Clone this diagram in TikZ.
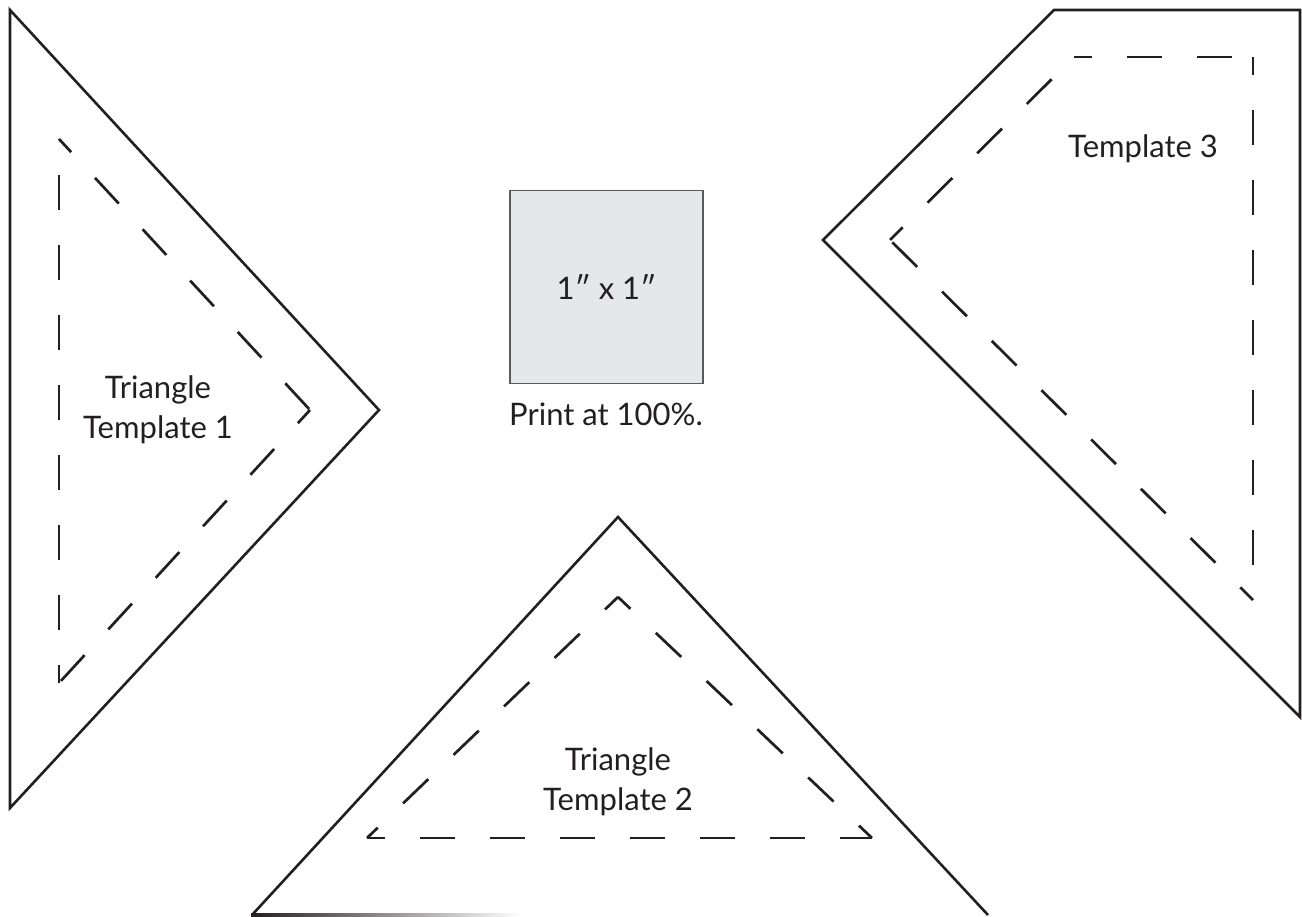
\documentclass[tikz,border=0pt]{standalone}
\usepackage{fontspec}
\setmainfont{Lato}
\definecolor{inkgray}{HTML}{231F20}
\definecolor{boxfill}{HTML}{E6E7E8}
\definecolor{boxline}{HTML}{58595B}
\tikzset{
  cutline/.style={line width=2.6pt, draw=inkgray},
  sewline/.style={line width=2.7pt, draw=inkgray, dash pattern=on 35pt off 35pt, dash phase=17pt},
  tpltext/.style={inner sep=0pt, text=inkgray, font=\fontsize{31}{40}\selectfont},
}
\begin{document}
\begin{tikzpicture}[x=1pt, y=-1pt, line join=miter, line cap=butt]
		\useasboundingbox (0,0) rectangle (1302,917);
		% template 1
		\path
		(10,10) coordinate (A1)
		(379,410) coordinate (B1)
		(10,808) coordinate (C1)
		(59,139) coordinate (a1)
		(310,410) coordinate (b1)
		(59,683) coordinate (c1);
		\draw[cutline] (A1) -- (B1) -- (C1) -- cycle;
		\foreach \p/\q in {a1/b1, b1/c1, c1/a1}
		\draw[sewline] (\p) -- (\q);
		\node[tpltext, align=center] (name1) at (158,410) {Triangle\\Template 1};
		% template 3
		\path
		(1054,10) coordinate (A3)
		(1300,10) coordinate (B3)
		(1300,717) coordinate (C3)
		(823,240) coordinate (D3)
		(1074,57) coordinate (a3)
		(1253,57) coordinate (b3)
		(1253,600) coordinate (c3)
		(890,240) coordinate (d3);
		\draw[cutline] (A3) -- (B3) -- (C3) -- (D3) -- cycle;
		\foreach \p/\q in {a3/b3, b3/c3, c3/d3, d3/a3}
		\draw[sewline] (\p) -- (\q);
		\node[tpltext, anchor=base] (name3) at (1143,158) {Template 3};
		% template 2
		\path
		(618,517) coordinate (A2)
		(252,915) coordinate (B2)
		(988,915) coordinate (C2)
		(618,597) coordinate (a2)
		(367,838) coordinate (b2)
		(872,838) coordinate (c2);
		\draw[cutline] (B2) -- (A2) -- (C2);
		\shade[left color=inkgray, right color=white] (251,913.7) rectangle (520,916.3);
		\foreach \p/\q in {a2/b2, b2/c2, c2/a2}
		\draw[sewline] (\p) -- (\q);
		\node[tpltext, align=center] (name2) at (618,782) {Triangle\\Template 2};
		% scale square
		\node[tpltext, draw=boxline, line width=1.5pt, fill=boxfill, minimum size=193pt] (sq) at (606.5,287) {1″ x 1″};
		\node[tpltext, anchor=base] (print) at (606,425) {Print at 100\%.};
	\end{tikzpicture}
\end{document}
